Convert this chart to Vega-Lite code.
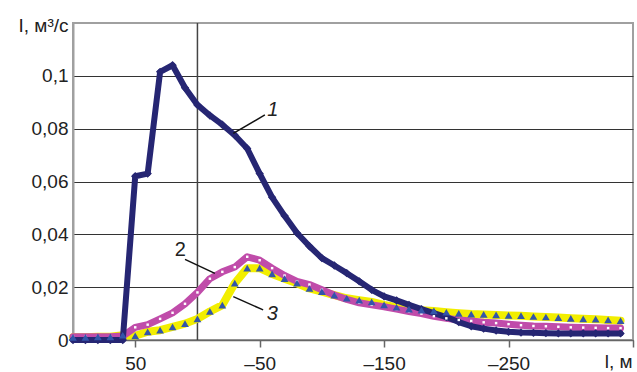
{
  "$schema": "https://vega.github.io/schema/vega-lite/v6.json",
  "width": 560,
  "height": 317,
  "autosize": {"type": "none"},
  "padding": {"left": 73, "top": 23, "right": 4, "bottom": 32},
  "background": "white",
  "config": {
    "font": "Liberation Sans",
    "view": {"stroke": "#a0a0a0", "strokeWidth": 2}
  },
  "datasets": {
    "curves": [
      {"l": 100, "c1": 0, "c2": 0.0012, "c3": 0.001},
      {"l": 90, "c1": 0, "c2": 0.0012, "c3": 0.001},
      {"l": 80, "c1": 0, "c2": 0.0012, "c3": 0.0012},
      {"l": 70, "c1": 0, "c2": 0.0012, "c3": 0.0012},
      {"l": 60, "c1": 0, "c2": 0.0015, "c3": 0.0018},
      {"l": 50, "c1": 0.062, "c2": 0.0048, "c3": 0.0016},
      {"l": 40, "c1": 0.063, "c2": 0.0058, "c3": 0.0031},
      {"l": 30, "c1": 0.1015, "c2": 0.008, "c3": 0.0037},
      {"l": 20, "c1": 0.104, "c2": 0.0103, "c3": 0.005},
      {"l": 10, "c1": 0.0955, "c2": 0.0137, "c3": 0.0062},
      {"l": 0, "c1": 0.089, "c2": 0.018, "c3": 0.008},
      {"l": -10, "c1": 0.085, "c2": 0.0232, "c3": 0.0108},
      {"l": -20, "c1": 0.0815, "c2": 0.0258, "c3": 0.0132},
      {"l": -30, "c1": 0.0775, "c2": 0.0276, "c3": 0.0215},
      {"l": -40, "c1": 0.0725, "c2": 0.0315, "c3": 0.0272},
      {"l": -50, "c1": 0.063, "c2": 0.0302, "c3": 0.0272},
      {"l": -60, "c1": 0.054, "c2": 0.0272, "c3": 0.025},
      {"l": -70, "c1": 0.047, "c2": 0.0244, "c3": 0.0232},
      {"l": -80, "c1": 0.0405, "c2": 0.0222, "c3": 0.0215},
      {"l": -90, "c1": 0.0355, "c2": 0.021, "c3": 0.0195},
      {"l": -100, "c1": 0.031, "c2": 0.019, "c3": 0.0183},
      {"l": -110, "c1": 0.0282, "c2": 0.017, "c3": 0.017},
      {"l": -120, "c1": 0.0253, "c2": 0.0154, "c3": 0.0158},
      {"l": -130, "c1": 0.0222, "c2": 0.0141, "c3": 0.0151},
      {"l": -140, "c1": 0.019, "c2": 0.0133, "c3": 0.0144},
      {"l": -150, "c1": 0.0165, "c2": 0.0126, "c3": 0.0133},
      {"l": -160, "c1": 0.015, "c2": 0.0117, "c3": 0.0124},
      {"l": -170, "c1": 0.0133, "c2": 0.0108, "c3": 0.0117},
      {"l": -180, "c1": 0.0117, "c2": 0.01, "c3": 0.0113},
      {"l": -190, "c1": 0.0102, "c2": 0.009, "c3": 0.011},
      {"l": -200, "c1": 0.0087, "c2": 0.0082, "c3": 0.0105},
      {"l": -210, "c1": 0.0068, "c2": 0.0076, "c3": 0.0101},
      {"l": -220, "c1": 0.0052, "c2": 0.0072, "c3": 0.0098},
      {"l": -230, "c1": 0.0043, "c2": 0.0067, "c3": 0.0097},
      {"l": -240, "c1": 0.0036, "c2": 0.0064, "c3": 0.0095},
      {"l": -250, "c1": 0.0031, "c2": 0.006, "c3": 0.0093},
      {"l": -260, "c1": 0.0028, "c2": 0.0056, "c3": 0.0092},
      {"l": -270, "c1": 0.0027, "c2": 0.0053, "c3": 0.0089},
      {"l": -280, "c1": 0.0026, "c2": 0.0052, "c3": 0.0087},
      {"l": -290, "c1": 0.0025, "c2": 0.005, "c3": 0.0085},
      {"l": -300, "c1": 0.0025, "c2": 0.0048, "c3": 0.0082},
      {"l": -310, "c1": 0.0025, "c2": 0.0047, "c3": 0.008},
      {"l": -320, "c1": 0.0025, "c2": 0.0046, "c3": 0.0079},
      {"l": -330, "c1": 0.0025, "c2": 0.0045, "c3": 0.0076},
      {"l": -340, "c1": 0.0025, "c2": 0.0045, "c3": 0.0073}
    ],
    "labels": [
      {"l": -60.6, "I": 0.0871, "text": "1", "italic": true},
      {"l": 13.7, "I": 0.0341, "text": "2", "italic": false},
      {"l": -60.2, "I": 0.0097, "text": "3", "italic": true}
    ],
    "leaders": [
      {"l": -28.8, "I": 0.0782, "l2": -54.2, "I2": 0.0852},
      {"l": 10, "I": 0.0305, "l2": -14, "I2": 0.0252},
      {"l": -28.8, "I": 0.0164, "l2": -52.8, "I2": 0.0114}
    ],
    "vline": [{"l": 0}]
  },
  "encoding": {
    "x": {
      "field": "l",
      "type": "quantitative",
      "scale": {"domain": [-350, 100], "reverse": true, "nice": false, "zero": false},
      "axis": {
        "values": [50, -50, -150, -250, -350],
        "labelExpr": "datum.value == -350 ? '' : (datum.value < 0 ? '–' + abs(datum.value) : '' + datum.value)",
        "grid": false,
        "domainColor": "#666666",
        "domainWidth": 1.5,
        "tickColor": "#666666",
        "tickSize": 7,
        "tickWidth": 1.5,
        "labelFontSize": 19,
        "labelColor": "#222222",
        "labelPadding": 7,
        "title": "l, м",
        "titleFontSize": 19,
        "titleFontWeight": "normal",
        "titleColor": "#222222",
        "titleX": 559,
        "titleY": 27,
        "titleAlign": "right",
        "titleBaseline": "alphabetic",
        "titleAnchor": null
      }
    }
  },
  "layer": [
    {
      "data": {"name": "vline"},
      "mark": {"type": "rule", "color": "#444444", "strokeWidth": 1.5},
      "encoding": {}
    },
    {
      "data": {"name": "curves"},
      "mark": {"type": "line", "color": "#f2ee00", "strokeWidth": 8, "strokeJoin": "round", "strokeCap": "round"},
      "encoding": {
        "y": {
          "field": "c3",
          "type": "quantitative",
          "scale": {"domain": [0, 0.12], "nice": false},
          "axis": {
            "values": [0, 0.02, 0.04, 0.06, 0.08, 0.1],
            "labelExpr": "replace(format(datum.value, '.2~f'), '.', ',')",
            "grid": true,
            "gridColor": "#333333",
            "gridWidth": 1,
            "ticks": false,
            "domainColor": "#a0a0a0",
            "domainWidth": 2,
            "labelFontSize": 19,
            "labelColor": "#222222",
            "labelPadding": 5,
            "title": "I, м³/с",
            "titleFontSize": 19,
            "titleFontWeight": "normal",
            "titleColor": "#222222",
            "titleAngle": 0,
            "titleAlign": "right",
            "titleBaseline": "alphabetic",
            "titleX": -5,
            "titleY": 8
          }
        }
      }
    },
    {
      "data": {"name": "curves"},
      "mark": {"type": "line", "color": "#c04caa", "strokeWidth": 7, "strokeJoin": "round", "strokeCap": "round"},
      "encoding": {"y": {"field": "c2", "type": "quantitative"}}
    },
    {
      "data": {"name": "curves"},
      "mark": {"type": "line", "color": "#262673", "strokeWidth": 6, "strokeJoin": "round", "strokeCap": "round"},
      "encoding": {"y": {"field": "c1", "type": "quantitative"}}
    },
    {
      "data": {"name": "curves"},
      "mark": {"type": "point", "shape": "diamond", "filled": true, "color": "#262673", "size": 70, "opacity": 1},
      "encoding": {"y": {"field": "c1", "type": "quantitative"}}
    },
    {
      "data": {"name": "curves"},
      "mark": {"type": "point", "shape": "square", "filled": true, "color": "#ffffff", "size": 6, "opacity": 1},
      "encoding": {"y": {"field": "c2", "type": "quantitative"}}
    },
    {
      "data": {"name": "curves"},
      "mark": {"type": "point", "shape": "triangle-up", "filled": true, "color": "#3355aa", "size": 60, "opacity": 1},
      "encoding": {"y": {"field": "c3", "type": "quantitative"}}
    },
    {
      "data": {"name": "leaders"},
      "mark": {"type": "rule", "color": "#111111", "strokeWidth": 1.5},
      "encoding": {
        "y": {"field": "I", "type": "quantitative"},
        "x2": {"field": "l2"},
        "y2": {"field": "I2"}
      }
    },
    {
      "data": {"name": "labels"},
      "transform": [{"filter": "datum.italic"}],
      "mark": {"type": "text", "fontSize": 20, "fontStyle": "italic", "color": "#222222", "align": "center", "baseline": "middle"},
      "encoding": {
        "y": {"field": "I", "type": "quantitative"},
        "text": {"field": "text"}
      }
    },
    {
      "data": {"name": "labels"},
      "transform": [{"filter": "!datum.italic"}],
      "mark": {"type": "text", "fontSize": 20, "color": "#222222", "align": "center", "baseline": "middle"},
      "encoding": {
        "y": {"field": "I", "type": "quantitative"},
        "text": {"field": "text"}
      }
    }
  ]
}
